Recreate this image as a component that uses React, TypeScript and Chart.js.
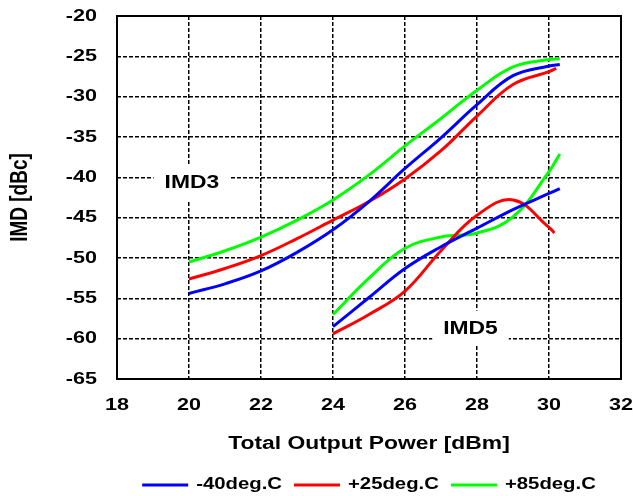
import React, { useEffect, useRef } from "react";
import { Chart, registerables } from "chart.js";

Chart.register(...registerables);

// ---- data ----
const seriesLabels = ["-40deg.C", "+25deg.C", "+85deg.C"];
const seriesColors = ["#0000FF", "#FF0000", "#00FF00"];

const x3Blue = [20, 21, 22, 23, 24, 25, 26, 27, 28, 29, 30, 30.3];
const imd3Blue = [-54.4, -53.2, -51.6, -49.3, -46.5, -43.0, -38.9, -35.1, -31.0, -27.4, -26.2, -26.0];
const x3Red = [20, 21, 22, 23, 24, 25, 26, 27, 28, 29, 30, 30.2];
const imd3Red = [-52.6, -51.3, -49.7, -47.6, -45.3, -43.0, -40.2, -36.7, -32.4, -28.5, -26.9, -26.5];
const x3Green = [20, 21, 22, 23, 24, 25, 26, 27, 28, 29, 30, 30.3];
const imd3Green = [-50.5, -49.1, -47.4, -45.3, -42.8, -39.7, -36.1, -32.7, -29.2, -26.3, -25.4, -25.3];

const x5Blue = [24, 25, 26, 27, 28, 29, 30, 30.3];
const imd5Blue = [-58.5, -54.9, -51.3, -48.6, -46.3, -44.0, -42.0, -41.4];
const x5Red = [24, 25, 26, 27, 28, 29, 30, 30.15];
const imd5Red = [-59.4, -57.0, -54.1, -49.1, -44.7, -42.8, -46.2, -46.9];
const x5Green = [24, 25, 26, 27, 28, 29, 30, 30.3];
const imd5Green = [-57.0, -52.5, -48.8, -47.4, -46.9, -44.9, -39.3, -37.1];

const xTicks = { min: 18, max: 32, step: 2 };
const yTicks = { min: -65, max: -20, step: 5 };

const noteTexts = ["IMD3", "IMD5"];
const noteX = [20.08, 27.82];
const noteY = [-40.7, -58.75];

const xTitle = "Total Output Power [dBm]";
const yTitle = "IMD [dBc]";

// ---- styling ----
const FONT = '"Liberation Sans", Arial, Helvetica, sans-serif';
const SX = 1.27; // horizontal text stretch, as in the reference

function patchContext(ctx: any) {
  if (ctx.__stretched) return;
  const origFill = ctx.fillText.bind(ctx);
  const origMeasure = ctx.measureText.bind(ctx);
  ctx.fillText = (text: string, x: number, y: number, maxWidth?: number) => {
    const t = ctx.getTransform();
    const rotated = Math.abs(t.b) > 1e-6;
    ctx.save();
    ctx.translate(x, y);
    if (rotated) ctx.scale(1, SX);
    else ctx.scale(SX, 1);
    if (maxWidth === undefined || rotated) origFill(text, 0, 0);
    else origFill(text, 0, 0, maxWidth / SX);
    ctx.restore();
  };
  ctx.measureText = (text: string) => {
    const m = origMeasure(text);
    return {
      width: m.width * SX,
      actualBoundingBoxAscent: m.actualBoundingBoxAscent,
      actualBoundingBoxDescent: m.actualBoundingBoxDescent,
      actualBoundingBoxLeft: m.actualBoundingBoxLeft * SX,
      actualBoundingBoxRight: m.actualBoundingBoxRight * SX,
      fontBoundingBoxAscent: m.fontBoundingBoxAscent,
      fontBoundingBoxDescent: m.fontBoundingBoxDescent,
    };
  };
  ctx.__stretched = true;
}

const notesPlugin = {
  id: "imdNotes",
  beforeDatasetsDraw(chart: any) {
    const { ctx, scales } = chart;
    const xs = scales.x;
    const ys = scales.y;
    ctx.save();
    ctx.font = `bold 18px ${FONT}`;
    ctx.textAlign = "center";
    ctx.textBaseline = "middle";
    noteTexts.forEach((t, i) => {
      const px = xs.getPixelForValue(noteX[i]);
      const py = ys.getPixelForValue(noteY[i]);
      const w = ctx.measureText(t).width;
      ctx.fillStyle = "#ffffff";
      ctx.fillRect(px - w / 2 - 11, py - 18, w + 22, 35);
      ctx.fillStyle = "#000000";
      ctx.fillText(t, px, py);
    });
    ctx.restore();
  },
};

const framePlugin = {
  id: "frame",
  afterDraw(chart: any) {
    const { ctx, chartArea } = chart;
    ctx.save();
    ctx.setLineDash([]);
    ctx.strokeStyle = "#000";
    ctx.lineWidth = 2;
    ctx.strokeRect(chartArea.left, chartArea.top, chartArea.right - chartArea.left, chartArea.bottom - chartArea.top);
    ctx.restore();
  },
};

function toPoints(xs: number[], ys: number[]) {
  return xs.map((x, i) => ({ x, y: ys[i] }));
}

export default function App() {
  const ref = useRef<HTMLCanvasElement | null>(null);

  useEffect(() => {
    if (!ref.current) return;
    const ctx2d = ref.current.getContext("2d");
    patchContext(ctx2d);
    const mk = (label: string, color: string, data: any[]) => ({
      label,
      data,
      borderColor: color,
      backgroundColor: color,
      borderWidth: 3,
      pointRadius: 0,
      fill: false,
      tension: 0.4,
    });
    const chart = new Chart(ref.current, {
      type: "line",
      data: {
        datasets: [
          mk(seriesLabels[0], seriesColors[0], toPoints(x3Blue, imd3Blue)),
          mk(seriesLabels[1], seriesColors[1], toPoints(x3Red, imd3Red)),
          mk(seriesLabels[2], seriesColors[2], toPoints(x3Green, imd3Green)),
          mk(seriesLabels[0] + " IMD5", seriesColors[0], toPoints(x5Blue, imd5Blue)),
          mk(seriesLabels[1] + " IMD5", seriesColors[1], toPoints(x5Red, imd5Red)),
          mk(seriesLabels[2] + " IMD5", seriesColors[2], toPoints(x5Green, imd5Green)),
        ],
      },
      options: {
        animation: false,
        responsive: false,
        events: [],
        layout: { padding: { top: 16, right: 12, bottom: -7, left: 0 } },
        scales: {
          x: {
            type: "linear",
            min: xTicks.min,
            max: xTicks.max,
            ticks: {
              stepSize: xTicks.step,
              padding: 16,
              color: "#000",
              font: { family: FONT, size: 17, weight: "bold" },
            },
            grid: { color: "#000", lineWidth: 1.5, drawTicks: false },
            border: { display: false, dash: [4, 2] },
            title: {
              display: true,
              text: xTitle,
              color: "#000",
              font: { family: FONT, size: 18, weight: "bold" },
              padding: { top: 0, bottom: 10.5 },
            },
            afterFit(scale: any) {
              scale.height = 86;
              scale.paddingLeft = 0;
              scale.paddingRight = 0;
            },
          },
          y: {
            type: "linear",
            min: yTicks.min,
            max: yTicks.max,
            ticks: {
              stepSize: yTicks.step,
              padding: 20,
              color: "#000",
              font: { family: FONT, size: 17, weight: "bold" },
            },
            grid: { color: "#000", lineWidth: 1.5, drawTicks: false },
            border: { display: false, dash: [4, 2] },
            title: {
              display: true,
              text: yTitle,
              color: "#000",
              font: { family: FONT, size: 19, weight: "bold" },
              padding: { top: 9, bottom: 0 },
            },
            afterFit(scale: any) {
              scale.width = 117;
              scale.paddingTop = 0;
              scale.paddingBottom = 0;
            },
          },
        },
        plugins: {
          tooltip: { enabled: false },
          legend: {
            position: "bottom",
            fullSize: false,
            labels: {
              usePointStyle: true,
              pointStyle: "line",
              pointStyleWidth: 46,
              padding: 12,
              color: "#000",
              font: { family: FONT, size: 16, weight: "bold" },
              filter: (item: any) => item.datasetIndex < 3,
            },
          },
        },
      } as any,
      plugins: [notesPlugin, framePlugin],
    });
    return () => chart.destroy();
  }, []);

  return (
    <div style={{ position: "absolute", left: 0, top: 0, width: 633, height: 496, background: "#fff" }}>
      <canvas ref={ref} width={633} height={496} style={{ display: "block", width: 633, height: 496 }} />
    </div>
  );
}
